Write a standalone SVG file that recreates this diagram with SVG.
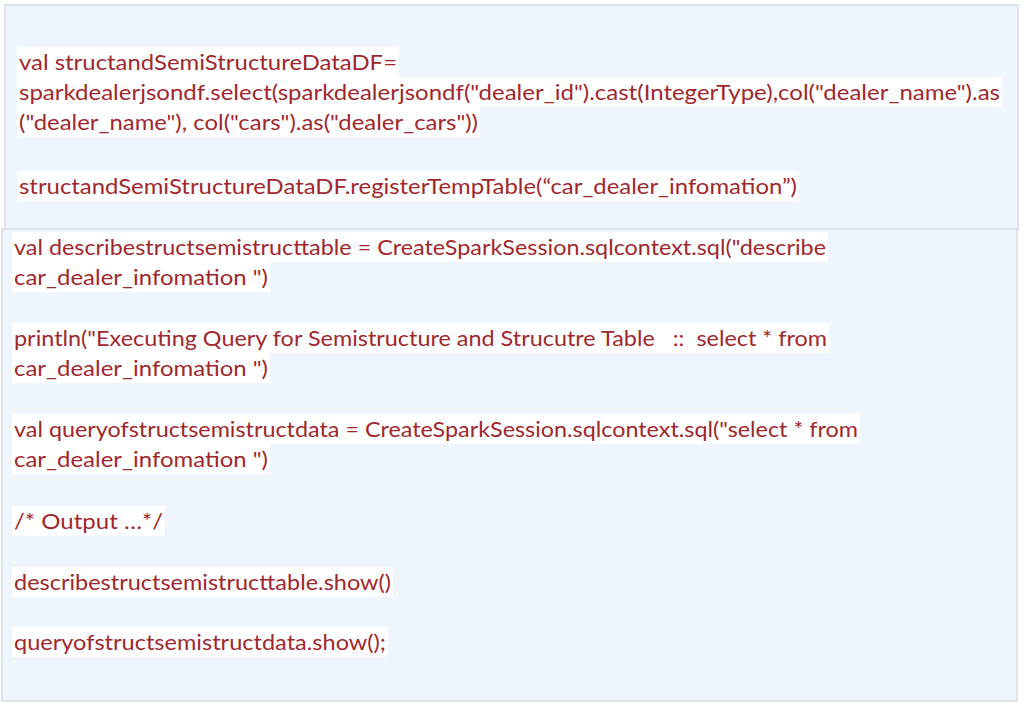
<svg xmlns="http://www.w3.org/2000/svg" width="1024" height="728" viewBox="0 0 1024 728">
<style>
.t{font-family:Lato,"Liberation Sans",sans-serif;font-size:22px;fill:#a0282d}
.h{fill:#ffffff}
.p{fill:#eef5fd;stroke:#d8dde3;stroke-width:1.5}
</style>
<rect width="1024" height="728" fill="#ffffff"/>
<g id="panel-top">
<rect class="p" x="5" y="5" width="1013" height="225"/>
<rect class="h" x="17" y="47" width="382" height="30"/>
<rect class="h" x="17" y="77" width="985" height="30"/>
<rect class="h" x="17" y="107" width="463" height="30"/>
<rect class="h" x="17" y="171" width="782" height="30"/>
<text class="t" x="19" y="70" textLength="378" lengthAdjust="spacingAndGlyphs">val structandSemiStructureDataDF=</text>
<text class="t" x="19" y="100" textLength="981" lengthAdjust="spacingAndGlyphs">sparkdealerjsondf.select(sparkdealerjsondf("dealer_id").cast(IntegerType),col("dealer_name").as</text>
<text class="t" x="19" y="130" textLength="459" lengthAdjust="spacingAndGlyphs">("dealer_name"), col("cars").as("dealer_cars"))</text>
<text class="t" x="19" y="194" textLength="778" lengthAdjust="spacingAndGlyphs">structandSemiStructureDataDF.registerTempTable(“car_dealer_infomation”)</text>
</g>
<g id="panel-bottom">
<rect class="p" x="2" y="229" width="1015" height="472"/>
<rect class="h" x="12" y="232" width="816" height="30"/>
<rect class="h" x="12" y="262" width="258" height="30"/>
<rect class="h" x="12" y="323" width="817" height="30"/>
<rect class="h" x="12" y="353" width="258" height="30"/>
<rect class="h" x="12" y="414" width="848" height="30"/>
<rect class="h" x="12" y="444" width="258" height="30"/>
<rect class="h" x="12" y="506" width="153" height="30"/>
<rect class="h" x="12" y="567" width="381" height="30"/>
<rect class="h" x="12" y="627" width="376" height="30"/>
<text class="t" x="14" y="255" textLength="812" lengthAdjust="spacingAndGlyphs">val describestructsemistructtable = CreateSparkSession.sqlcontext.sql("describe</text>
<text class="t" x="14" y="285" textLength="254" lengthAdjust="spacingAndGlyphs">car_dealer_infomation ")</text>
<text class="t" x="14" y="346" textLength="813" lengthAdjust="spacingAndGlyphs" xml:space="preserve">println("Executing Query for Semistructure and Strucutre Table   ::  select * from</text>
<text class="t" x="14" y="376" textLength="254" lengthAdjust="spacingAndGlyphs">car_dealer_infomation ")</text>
<text class="t" x="14" y="437" textLength="844" lengthAdjust="spacingAndGlyphs">val queryofstructsemistructdata = CreateSparkSession.sqlcontext.sql("select * from</text>
<text class="t" x="14" y="467" textLength="254" lengthAdjust="spacingAndGlyphs">car_dealer_infomation ")</text>
<text class="t" x="14" y="529" textLength="149" lengthAdjust="spacingAndGlyphs">/* Output …*/</text>
<text class="t" x="14" y="590" textLength="377" lengthAdjust="spacingAndGlyphs">describestructsemistructtable.show()</text>
<text class="t" x="14" y="650" textLength="372" lengthAdjust="spacingAndGlyphs">queryofstructsemistructdata.show();</text>
</g>
</svg>
